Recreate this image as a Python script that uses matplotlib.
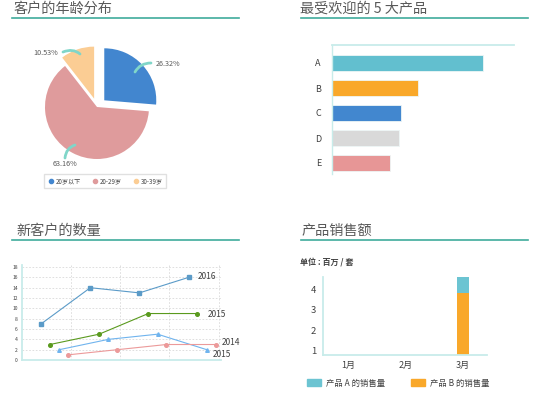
import matplotlib
matplotlib.use("Agg")
import matplotlib.pyplot as plt
from matplotlib.patches import Rectangle, PathPatch
from matplotlib.path import Path
from matplotlib.lines import Line2D

plt.rcParams['font.family'] = ['Noto Sans CJK SC', 'DejaVu Sans']

# ---------------- data ----------------
pie_labels = ["20岁以下", "20-29岁", "30-39岁"]
pie_values = [26.32, 63.16, 10.53]
pie_colors = ["#4286cf", "#df9b9c", "#fbcd94"]

bar_cats = ["A", "B", "C", "D", "E"]
bar_values = [83, 47, 38, 37, 32]
bar_colors = ["#62bfcf", "#f9a82a", "#4287cf", "#d9d9d9", "#e79696"]

line_names = ["2016", "2015", "2015", "2014"]
line_2016 = [7, 14, 13, 16]
line_2015a = [3, 5, 9, 9]
line_2015b = [2, 4, 5, 2]
line_2014 = [1, 2, 3, 3]
line_offsets = [0.39, 0.57, 0.76, 0.94]
line_colors = ["#5b9bc8", "#5a9a1e", "#70b4ee", "#ec9a9a"]
line_markers = ["s", "o", "^", "o"]

months = ["1月", "2月", "3月"]
sales_a = [0.3, 0.4, 0.8]
sales_b = [0.3, 0.4, 3.8]

W, H = 537, 413
fig = plt.figure(figsize=(W / 100, H / 100), dpi=100)

def box(x0, y0, x1, y1):
    return [x0 / W, 1 - y1 / H, (x1 - x0) / W, (y1 - y0) / H]

TITLE_C = "#595959"
TEAL = "#3fab9c"
LIGHT = "#c8ecea"

def title(x, y, text, lx0, lx1, ly):
    fig.text(x / W, 1 - y / H, text, fontsize=10.2, color=TITLE_C, va="baseline", ha="left")
    fig.add_artist(Line2D([lx0 / W, lx1 / W], [1 - ly / H, 1 - ly / H], color=TEAL, lw=1.2))

title(14, 13, "客户的年龄分布", 12, 239, 18)
title(300, 13, "最受欢迎的 5 大产品", 301, 528, 18)
title(16, 235, "新客户的数量", 12, 239, 240)
title(302, 235, "产品销售额", 301, 528, 240)

# ---------------- pie ----------------
axp = fig.add_axes(box(19, 29, 175, 185))
wedges, _ = axp.pie(pie_values, colors=pie_colors, startangle=90, counterclock=False,
                    explode=[0.19, 0, 0.17], radius=1.0)
axp.set_xlim(-1.5, 1.5)
axp.set_ylim(-1.5, 1.5)
axp.set_aspect("equal")
axp.axis("off")

def px2d(x, y):
    # pixel to data coordinates of pie axes (center 97,107, 52 px per unit)
    return ((x - 97) / 52.0, (107 - y) / 52.0)

def leader(p0, pc, p1):
    verts = [px2d(*p0), px2d(*pc), px2d(*p1)]
    path = Path(verts, [Path.MOVETO, Path.CURVE3, Path.CURVE3])
    axp.add_patch(PathPatch(path, fill=False, edgecolor="#80d6c9", lw=2.0,
                            capstyle="round", clip_on=False, zorder=5))

leader((135, 72), (140, 63), (151, 63))
leader((80, 54), (73, 48), (63, 52))
leader((75, 145), (66, 148), (65, 158))

lab_kw = dict(fontsize=5.2, color="#595959", ha="center", va="center", clip_on=False)
axp.text(*px2d(168, 64), f"{pie_values[0]:.2f}%", **lab_kw)
axp.text(*px2d(46, 53), f"{pie_values[2]:.2f}%", **lab_kw)
axp.text(*px2d(65, 164), f"{pie_values[1]:.2f}%", **lab_kw)

handles = [Line2D([], [], marker="o", ls="", color=c, markersize=3) for c in pie_colors]
fig.legend(handles, pie_labels, loc="center", bbox_to_anchor=((45 + 165) / 2 / W, 1 - 181 / H),
           ncol=3, fontsize=4.4, frameon=True, fancybox=False, edgecolor="#d9d9d9",
           handletextpad=0.3, columnspacing=1.8, borderpad=0.5, handlelength=1.0,
           labelcolor="#404040")

# ---------------- horizontal bar ----------------
axb = fig.add_axes(box(332, 45, 514, 174))
ypos = list(range(len(bar_cats)))
axb.barh(ypos, bar_values, height=0.63, color=bar_colors, edgecolor="#eef6f6", linewidth=0.6)
axb.set_xlim(0, 100)
axb.set_ylim(4.44, -0.72)
axb.set_yticks(ypos)
axb.set_yticklabels(bar_cats, fontsize=6.5, color="#404040")
axb.tick_params(axis="y", length=0, pad=8)
axb.set_xticks([])
for s in ["right", "bottom"]:
    axb.spines[s].set_visible(False)
axb.spines["top"].set_color(LIGHT)
axb.spines["top"].set_linewidth(1.3)
axb.spines["left"].set_color(LIGHT)
axb.spines["left"].set_linewidth(1.0)

# ---------------- line chart ----------------
axl = fig.add_axes(box(22, 265, 221, 360))
series = [line_2016, line_2015a, line_2015b, line_2014]
for vals, off, c, m in zip(series, line_offsets, line_colors, line_markers):
    xs = [i + off for i in range(len(vals))]
    axl.plot(xs, vals, color=c, lw=0.8, marker=m, markersize=2.6, clip_on=False)
label_pos = [(3.58, 16.1), (3.77, 8.9), (3.89, 1.1), (4.07, 3.3)]
for (lx, ly), name in zip(label_pos, line_names):
    axl.text(lx, ly, name, fontsize=6, color="#404040", ha="left", va="center", clip_on=False)
axl.set_xlim(0, 4.05)
axl.set_ylim(0, 18.4)
axl.set_yticks(range(0, 19, 2))
axl.set_yticklabels([str(v) for v in range(0, 19, 2)], fontsize=3.6, color="#404040")
axl.set_xticks([1, 2, 3, 4])
axl.set_xticklabels([])
axl.tick_params(axis="x", length=0)
axl.tick_params(axis="y", length=0, pad=3)
axl.grid(True, ls=(0, (2, 2)), color="#d9d9d9", lw=0.6)
axl.set_axisbelow(True)
for s in ["right", "top"]:
    axl.spines[s].set_visible(False)
axl.spines["left"].set_color(LIGHT)
axl.spines["left"].set_linewidth(1.3)
axl.spines["bottom"].set_color(LIGHT)
axl.spines["bottom"].set_linewidth(1.3)

# ---------------- stacked bar ----------------
fig.text(300 / W, 1 - 262 / H, "单位 : 百万 / 套", fontsize=5.8, color="#404040",
         ha="left", va="center", fontweight="bold")
axs = fig.add_axes(box(323, 277, 487, 355))
xm = list(range(len(months)))
axs.bar(xm, sales_b, width=0.21, color="#f9a82a")
axs.bar(xm, sales_a, width=0.21, bottom=sales_b, color="#6cc4d2")
axs.set_xlim(-0.44, 2.42)
axs.set_ylim(0.8, 4.6)
axs.set_yticks([1, 2, 3, 4])
axs.set_yticklabels(["1", "2", "3", "4"], fontsize=6.8, color="#404040")
axs.set_xticks(xm)
axs.set_xticklabels(months, fontsize=6.5, color="#404040")
axs.tick_params(length=0)
axs.tick_params(axis="y", pad=5)
axs.tick_params(axis="x", pad=4)
for s in ["right", "top"]:
    axs.spines[s].set_visible(False)
axs.spines["left"].set_color(LIGHT)
axs.spines["left"].set_linewidth(1.3)
axs.spines["bottom"].set_color(LIGHT)
axs.spines["bottom"].set_linewidth(1.3)

lh = [Rectangle((0, 0), 1, 1, color="#6cc4d2"), Rectangle((0, 0), 1, 1, color="#f9a82a")]
fig.legend(lh, ["产品 A 的销售量", "产品 B 的销售量"], loc="center left",
           bbox_to_anchor=(299 / W, 1 - 383 / H), ncol=2, fontsize=6.0, frameon=False,
           handlelength=1.7, handleheight=0.9, handletextpad=0.6, columnspacing=3.1,
           labelcolor="#404040")

fig.savefig("out.png", dpi=100)
